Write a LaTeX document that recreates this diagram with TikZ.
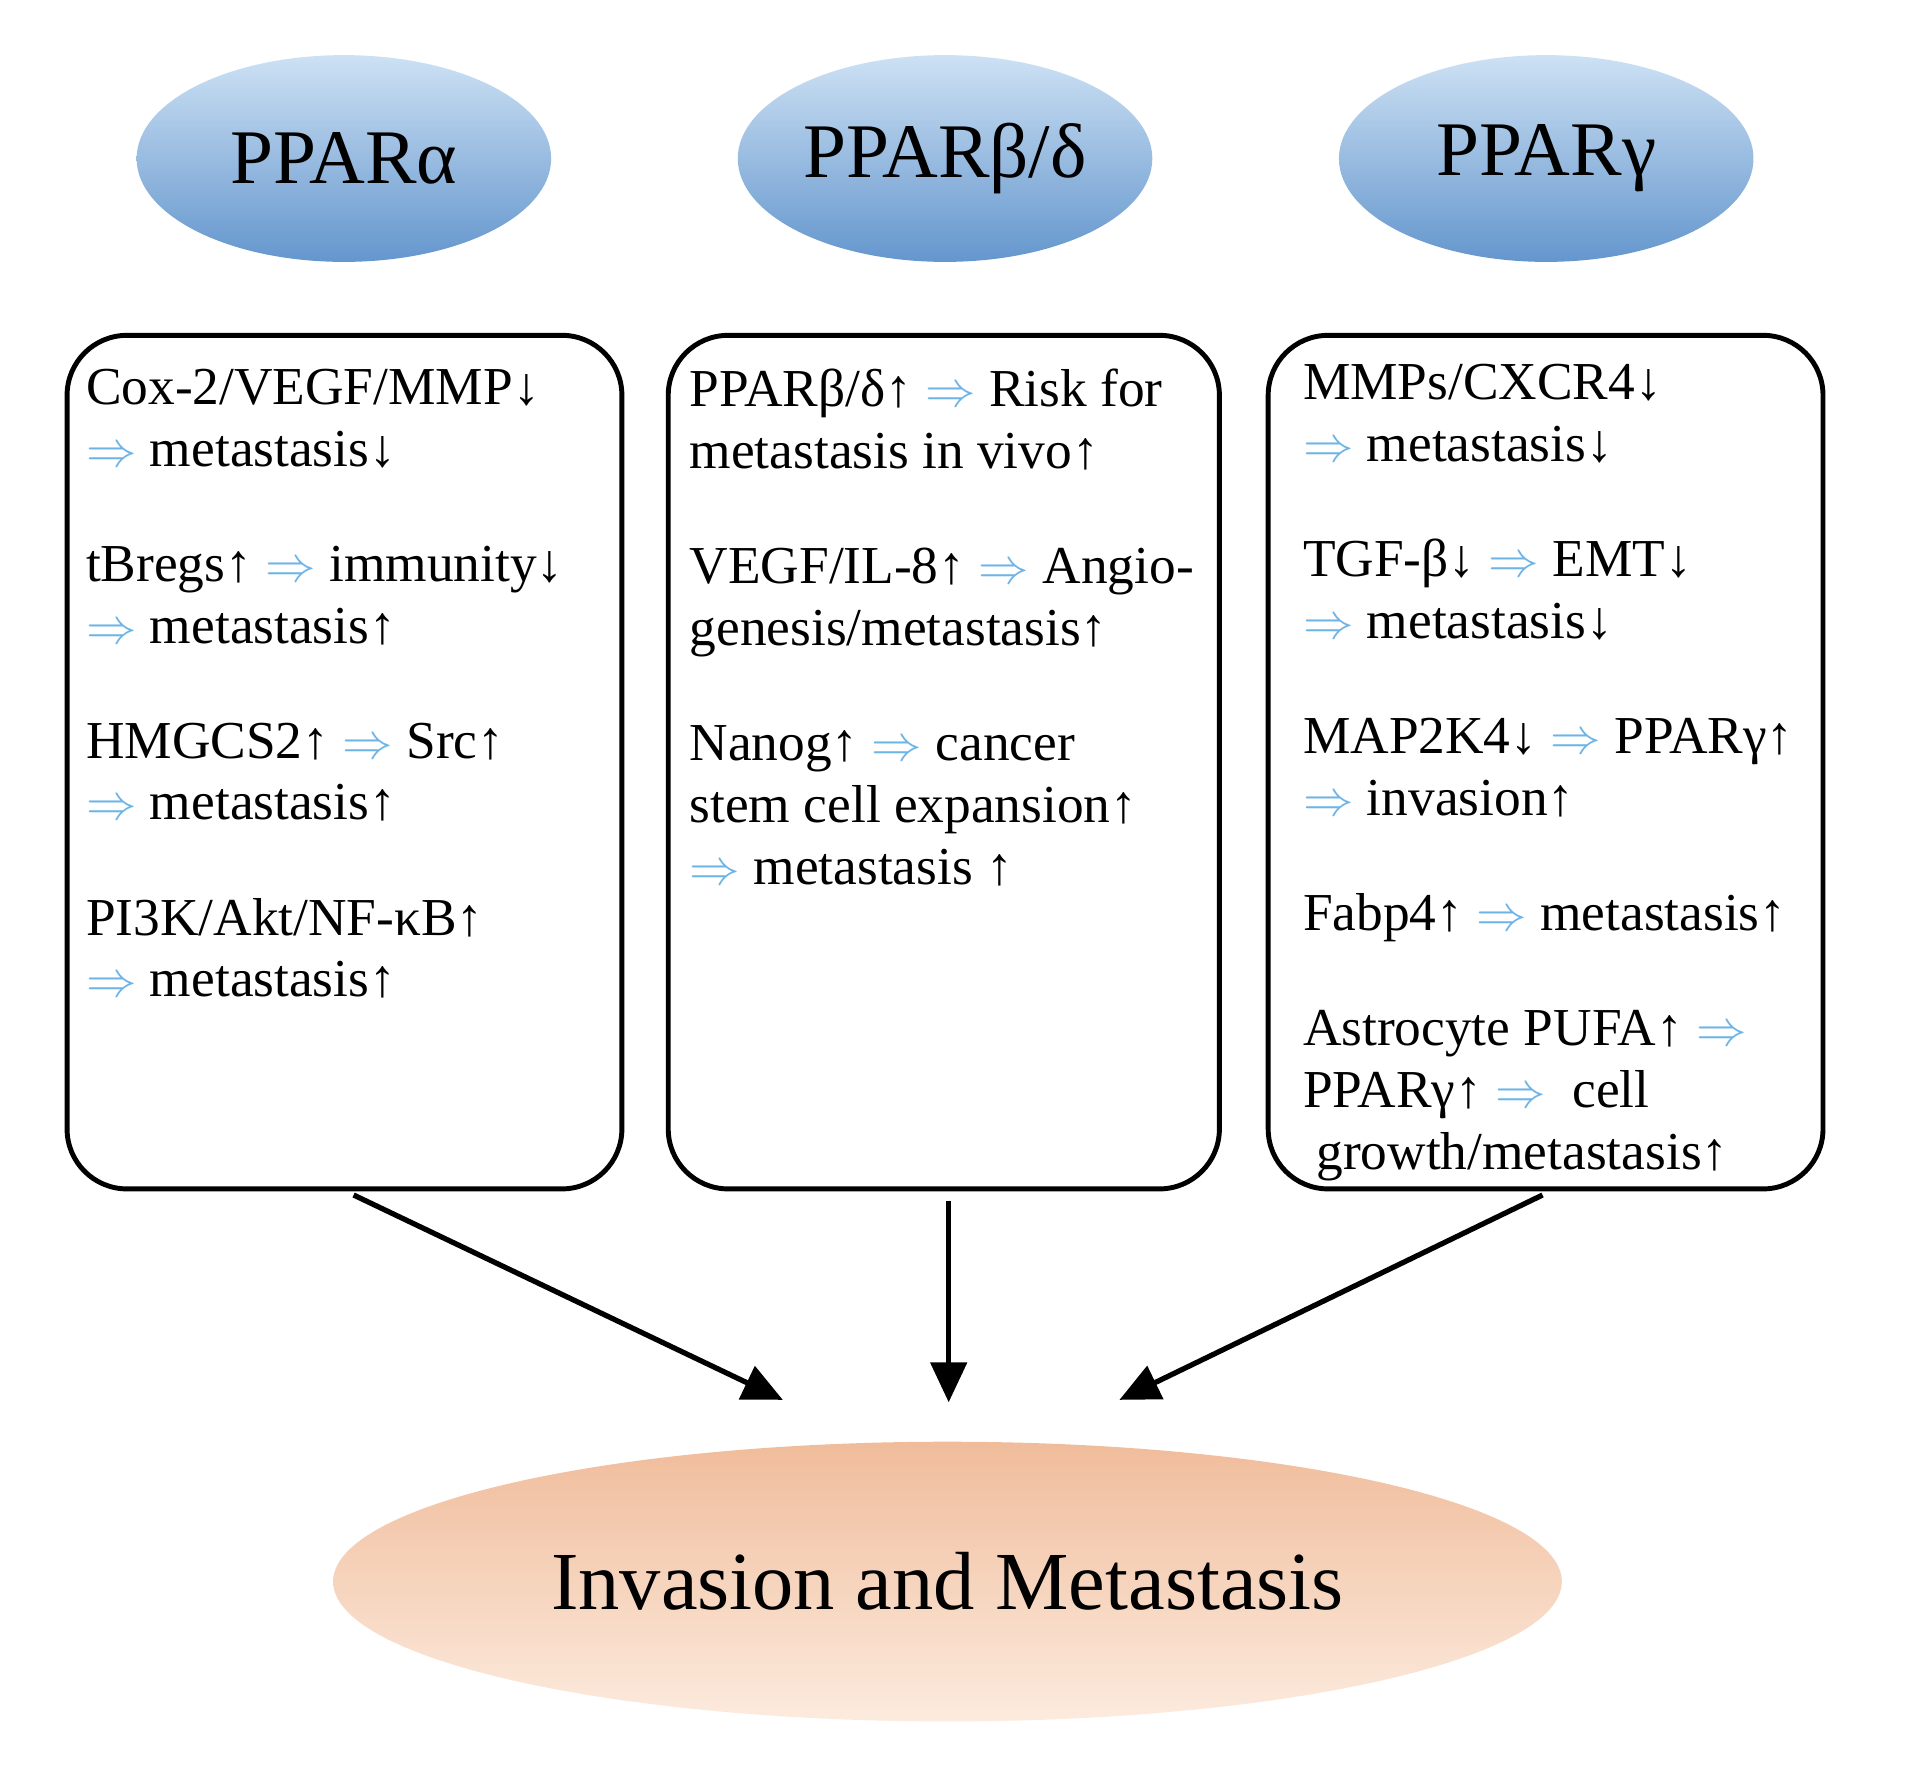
\documentclass[tikz,border=0pt]{standalone}
\usepackage{fontspec}
\setmainfont{Liberation Serif}
\usetikzlibrary{shapes.geometric,arrows.meta}
\definecolor{arrowblue}{RGB}{110,180,230}
\newcommand\RA{{\color{arrowblue}$\Rightarrow$}}
\begin{document}
\begin{tikzpicture}[x=0.0122cm,y=-0.0122cm,
  ppar/.style={ellipse,inner sep=0pt,minimum width=4.15cm,minimum height=2.07cm,top color={rgb,255:red,205;green,225;blue,244},bottom color={rgb,255:red,100;green,150;blue,205},font=\fontsize{22pt}{26pt}\selectfont},
  box/.style={draw,line width=1.4pt,rounded corners=0.6cm},
  txt/.style={anchor=north west,align=left,inner sep=0pt,font=\fontsize{15.2pt}{17.6pt}\selectfont},
  arr/.style={line width=1.5pt,-{Triangle[length=0.4cm,width=0.36cm]}}]
\useasboundingbox (0,0) rectangle (1568,1450);
\node[ppar] (pa) at (282,130) {PPARα};
\node[ppar] (pb) at (775,130) {PPARβ/δ};
\node[ppar] (pg) at (1268,130) {PPARγ};

\draw[box] (55,275) rectangle (510,975);
\draw[box] (548,275) rectangle (1000,975);
\draw[box] (1040,275) rectangle (1495,975);
\node (boxa) at (290,980) {};
\node (boxb) at (778,985) {};
\node (boxc) at (1265,980) {};

\node[txt] (ta) at (70,302) {Cox-2/VEGF/MMP↓\\ \RA\ metastasis↓\\[1em]
tBregs↑ \RA\ immunity↓\\ \RA\ metastasis↑\\[1em]
HMGCS2↑ \RA\ Src↑\\ \RA\ metastasis↑\\[1em]
PI3K/Akt/NF-κB↑\\ \RA\ metastasis↑};
\node[txt] (tb) at (565,302) {PPARβ/δ↑ \RA\ Risk for\\ metastasis in vivo↑\\[1em]
VEGF/IL-8↑ \RA\ Angio-\\ genesis/metastasis↑\\[1em]
Nanog↑ \RA\ cancer\\ stem cell expansion↑\\ \RA\ metastasis ↑};
\node[txt] (tc) at (1068,298) {MMPs/CXCR4↓\\ \RA\ metastasis↓\\[1em]
TGF-β↓ \RA\ EMT↓\\ \RA\ metastasis↓\\[1em]
MAP2K4↓ \RA\ PPARγ↑\\ \RA\ invasion↑\\[1em]
Fabp4↑ \RA\ metastasis↑\\[1em]
Astrocyte PUFA↑ \RA\\ PPARγ↑ \RA\ \ cell\\ \ growth/metastasis↑};

\node[ellipse,inner sep=0pt,minimum width=12.3cm,minimum height=2.8cm,top color={rgb,255:red,240;green,188;blue,155},bottom color={rgb,255:red,252;green,235;blue,222},font=\fontsize{23.5pt}{28pt}\selectfont] (inv) at (777,1297) {Invasion and Metastasis};
\coordinate (ea) at (642,1148);
\coordinate (eb) at (778,1150);
\coordinate (ec) at (918,1148);
\draw[arr] (boxa.center) -- (ea);
\draw[arr] (boxb.center) -- (eb);
\draw[arr] (boxc.center) -- (ec);
\end{tikzpicture}
\end{document}
